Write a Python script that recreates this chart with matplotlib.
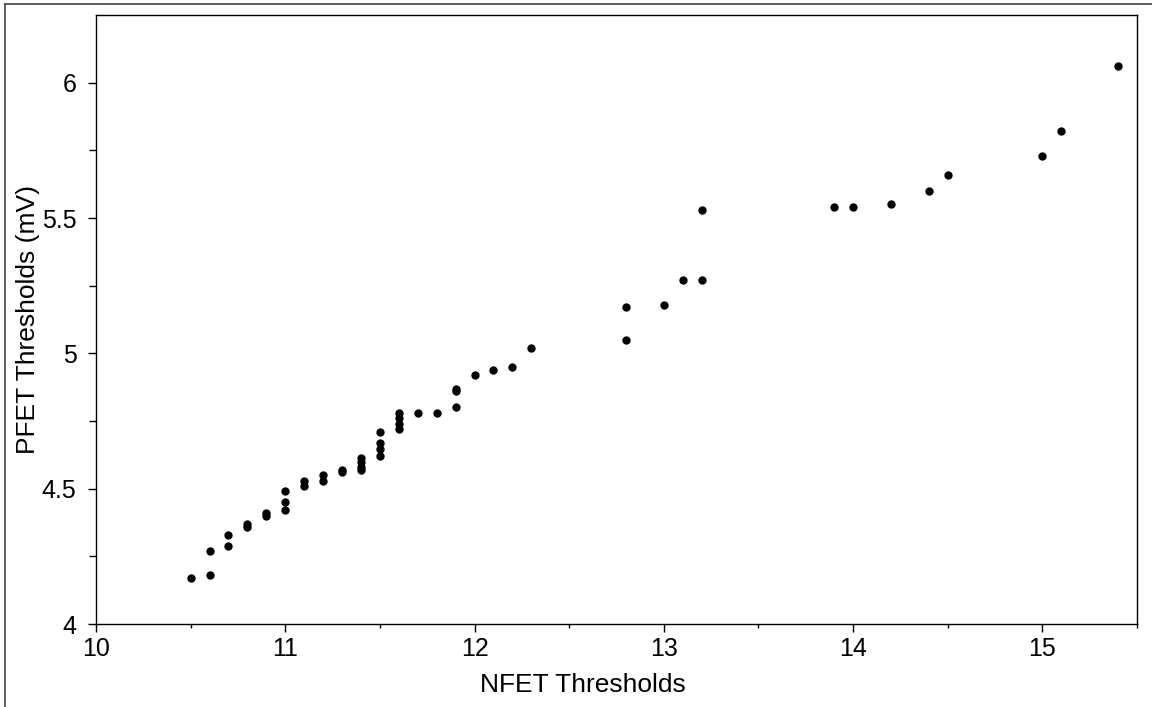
import matplotlib
matplotlib.use("Agg")
import matplotlib.pyplot as plt
from matplotlib.lines import Line2D

nfet = [10.5, 10.6, 10.6, 10.7, 10.7, 10.8, 10.8, 10.9, 10.9,
        11.0, 11.0, 11.0, 11.1, 11.1, 11.2, 11.2, 11.3, 11.3,
        11.4, 11.4, 11.4, 11.4, 11.5, 11.5, 11.5, 11.5,
        11.6, 11.6, 11.6, 11.6, 11.7, 11.8, 11.9, 11.9, 11.9,
        12.0, 12.1, 12.2, 12.3, 12.8, 12.8, 13.0, 13.1, 13.2, 13.2,
        13.9, 14.0, 14.2, 14.4, 14.5, 15.0, 15.1, 15.4]
pfet = [4.17, 4.18, 4.27, 4.29, 4.33, 4.36, 4.37, 4.40, 4.41,
        4.42, 4.45, 4.49, 4.51, 4.53, 4.53, 4.55, 4.56, 4.57,
        4.57, 4.58, 4.60, 4.615, 4.62, 4.645, 4.67, 4.71,
        4.72, 4.74, 4.76, 4.78, 4.78, 4.78, 4.80, 4.86, 4.87,
        4.92, 4.94, 4.95, 5.02, 5.05, 5.17, 5.18, 5.27, 5.27, 5.53,
        5.54, 5.54, 5.55, 5.60, 5.66, 5.73, 5.82, 6.06]

xticks = [10, 11, 12, 13, 14, 15]
yticks = [4, 4.5, 5, 5.5, 6]
ytick_labels = ["4", "4.5", "5", "5.5", "6"]

plt.rcParams['font.family'] = ['Liberation Sans', 'DejaVu Sans']

fig = plt.figure(figsize=(11.52, 7.07), dpi=100)
ax = fig.add_axes([96/1152, 1 - 624/707, (1137-96)/1152, (624-15)/707])

ax.plot(nfet, pfet, linestyle='none', marker='o', markersize=6,
        color='black', markeredgewidth=0)

ax.set_xlim(10, 15.5)
ax.set_ylim(4, 6.25)
ax.set_xticks(xticks)
ax.set_xticklabels([str(t) for t in xticks])
ax.set_xticks([10.5, 11.5, 12.5, 13.5, 14.5, 15.5], minor=True)
ax.set_yticks(yticks)
ax.set_yticklabels(ytick_labels)
ax.set_yticks([4.25, 4.75, 5.25, 5.75], minor=True)

ax.tick_params(axis='both', which='major', direction='out', length=6,
               width=1, labelsize=18, color='black')
ax.tick_params(axis='x', which='major', pad=3)
ax.tick_params(axis='y', which='major', pad=8)
ax.tick_params(axis='x', which='minor', direction='out', length=3, width=1)
ax.tick_params(axis='y', which='minor', direction='out', length=5, width=1)
for s in ax.spines.values():
    s.set_linewidth(1)
    s.set_color('black')

ax.set_xlabel("NFET Thresholds", fontsize=19, labelpad=8)
ax.xaxis.set_label_coords((583 - 96) / 1041, -0.08)
ax.set_ylabel("PFET Thresholds (mV)", fontsize=19, labelpad=1)

# outer frame (top and left edges)
fig.add_artist(Line2D([5/1152, 1], [1 - 4/707, 1 - 4/707],
                      transform=fig.transFigure, color='#444444', lw=1.2))
fig.add_artist(Line2D([5/1152, 5/1152], [0, 1 - 4/707],
                      transform=fig.transFigure, color='#444444', lw=1.2))

fig.savefig("out.png", dpi=100)
